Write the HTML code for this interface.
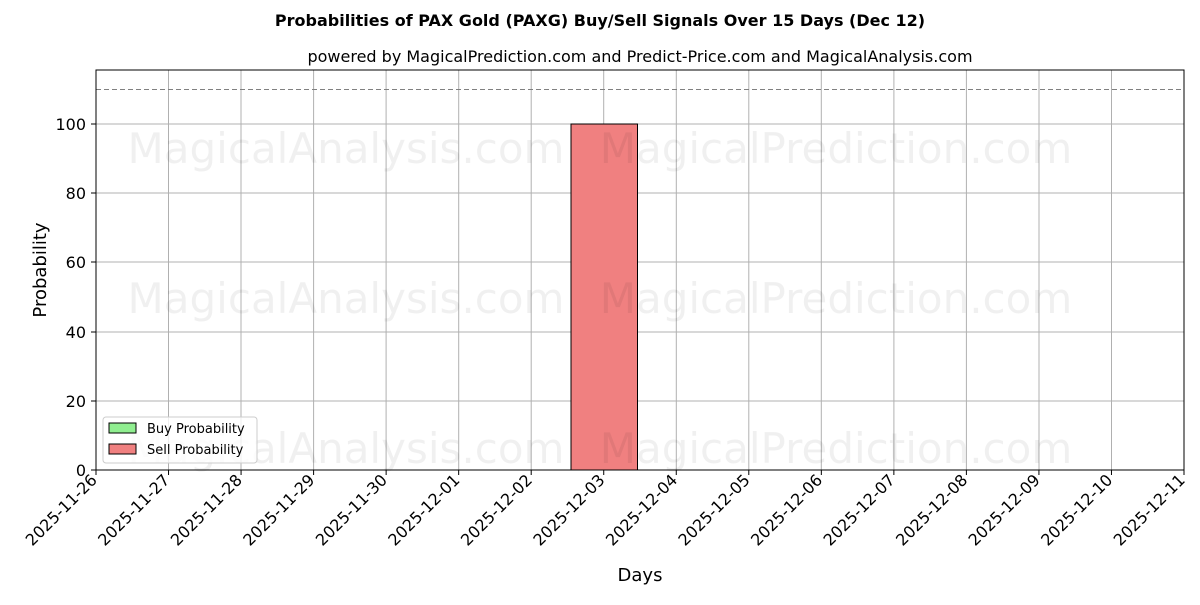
<!DOCTYPE html><html><head><style>body{margin:0;background:#fff}</style></head><body>
<svg width="1200" height="600" xmlns="http://www.w3.org/2000/svg" font-family="'DejaVu Sans','Liberation Sans',sans-serif">
<rect width="1200" height="600" fill="#fff"/>
<text x="600" y="26" text-anchor="middle" font-size="16" font-weight="bold">Probabilities of PAX Gold (PAXG) Buy/Sell Signals Over 15 Days (Dec 12)</text>
<text x="640" y="62" text-anchor="middle" font-size="16">powered by MagicalPrediction.com and Predict-Price.com and MagicalAnalysis.com</text>
<g stroke="#b0b0b0" stroke-width="1">
<line x1="96" x2="1184" y1="470" y2="470"/><line x1="96" x2="1184" y1="401" y2="401"/><line x1="96" x2="1184" y1="332" y2="332"/><line x1="96" x2="1184" y1="262" y2="262"/><line x1="96" x2="1184" y1="193" y2="193"/><line x1="96" x2="1184" y1="124" y2="124"/>
<line y1="70" y2="470" x1="168.5" x2="168.5"/><line y1="70" y2="470" x1="241" x2="241"/><line y1="70" y2="470" x1="313.6" x2="313.6"/><line y1="70" y2="470" x1="386.1" x2="386.1"/><line y1="70" y2="470" x1="458.7" x2="458.7"/><line y1="70" y2="470" x1="531.2" x2="531.2"/><line y1="70" y2="470" x1="603.7" x2="603.7"/><line y1="70" y2="470" x1="676.3" x2="676.3"/><line y1="70" y2="470" x1="748.8" x2="748.8"/><line y1="70" y2="470" x1="821.3" x2="821.3"/><line y1="70" y2="470" x1="893.9" x2="893.9"/><line y1="70" y2="470" x1="966.4" x2="966.4"/><line y1="70" y2="470" x1="1039" x2="1039"/><line y1="70" y2="470" x1="1111.5" x2="1111.5"/>
</g>
<line x1="96" x2="1184" y1="89.5" y2="89.5" stroke="#808080" stroke-dasharray="5,3"/>
<rect x="571" y="124" width="66.5" height="346" fill="#f08080" stroke="#000" stroke-width="1"/>
<g font-size="42" fill="#000" fill-opacity="0.06">
<text x="346" y="163" text-anchor="middle">MagicalAnalysis.com</text>
<text x="836" y="163" text-anchor="middle">MagicalPrediction.com</text>
<text x="346" y="313" text-anchor="middle">MagicalAnalysis.com</text>
<text x="836" y="313" text-anchor="middle">MagicalPrediction.com</text>
<text x="346" y="463" text-anchor="middle">MagicalAnalysis.com</text>
<text x="836" y="463" text-anchor="middle">MagicalPrediction.com</text>
</g>
<rect x="96" y="70" width="1088" height="400" fill="none" stroke="#000" stroke-width="1"/>
<g font-size="16" text-anchor="end">
<text x="86" y="476">0</text><text x="86" y="407">20</text><text x="86" y="338">40</text><text x="86" y="268">60</text><text x="86" y="199">80</text><text x="86" y="130">100</text>
</g>
<g stroke="#000"><line x1="91" x2="96" y1="470" y2="470"/><line x1="91" x2="96" y1="401" y2="401"/><line x1="91" x2="96" y1="332" y2="332"/><line x1="91" x2="96" y1="262" y2="262"/><line x1="91" x2="96" y1="193" y2="193"/><line x1="91" x2="96" y1="124" y2="124"/></g>
<g font-size="16" text-anchor="end" id="xt"></g>
<text x="640" y="581" text-anchor="middle" font-size="18">Days</text>
<text transform="translate(46,270) rotate(-90)" text-anchor="middle" font-size="18">Probability</text>
<rect x="103" y="417" width="154" height="46" rx="3" fill="#fff" fill-opacity="0.8" stroke="#ccc"/>
<rect x="109" y="423" width="27" height="10" fill="#90ee90" stroke="#000"/>
<rect x="109" y="444" width="27" height="10" fill="#f08080" stroke="#000"/>
<text x="147" y="433" font-size="13">Buy Probability</text>
<text x="147" y="454" font-size="13">Sell Probability</text>
<g id="t" stroke="#000"></g>
<script>
var d=["2025-11-26","2025-11-27","2025-11-28","2025-11-29","2025-11-30","2025-12-01","2025-12-02","2025-12-03","2025-12-04","2025-12-05","2025-12-06","2025-12-07","2025-12-08","2025-12-09","2025-12-10","2025-12-11"];
var g=document.getElementById("xt"),t=document.getElementById("t"),ns="http://www.w3.org/2000/svg";
d.forEach(function(s,i){var x=96+i*72.533;var e=document.createElementNS(ns,"text");e.setAttribute("transform","translate("+(x+2)+",481) rotate(-45)");e.textContent=s;g.appendChild(e);
var l=document.createElementNS(ns,"line");l.setAttribute("x1",x);l.setAttribute("x2",x);l.setAttribute("y1",470);l.setAttribute("y2",475);t.appendChild(l);});
</script>
</svg></body></html>
